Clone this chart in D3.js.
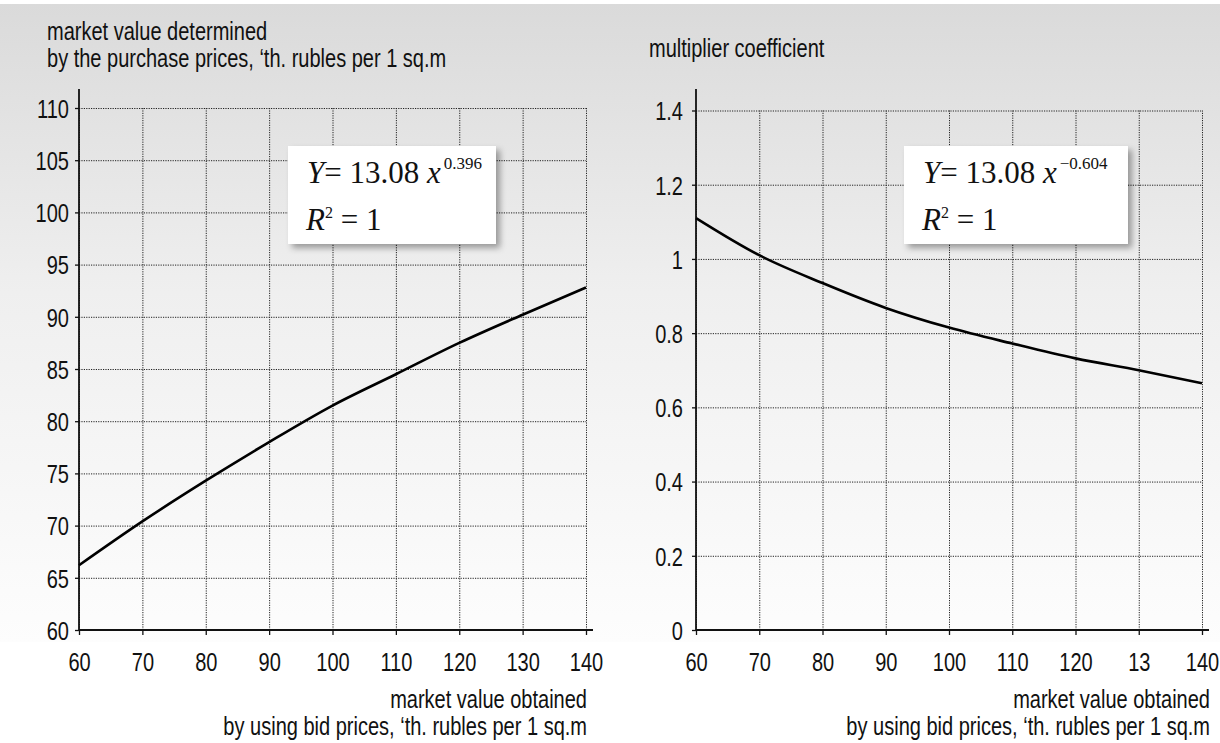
<!DOCTYPE html>
<html><head><meta charset="utf-8">
<script src="https://cdn.jsdelivr.net/npm/d3@7"></script>
<style>
html,body{margin:0;padding:0;background:#fff;}
svg{display:block;}
.lbl{font-family:"Liberation Sans",Arial,Helvetica,sans-serif;fill:#111;}
.eq{font-family:"Liberation Serif","Times New Roman",serif;fill:#111;}
</style></head>
<body>
<svg id="c" width="1220" height="743"></svg>
<script>
// ---- data ----
const xValues = [60, 70, 80, 90, 100, 110, 120, 130, 140];
const leftSeries = [66.2, 70.4, 74.3, 78.0, 81.5, 84.5, 87.5, 90.2, 92.8];
const rightSeries = [1.11, 1.01, 0.935, 0.868, 0.815, 0.772, 0.732, 0.700, 0.665];
const leftXTickLabels = ["60","70","80","90","100","110","120","130","140"];
const rightXTickLabels = ["60","70","80","90","100","110","120","13","140"];
const leftYTicks = [60, 65, 70, 75, 80, 85, 90, 95, 100, 105, 110];
const rightYTicks = [0, 0.2, 0.4, 0.6, 0.8, 1, 1.2, 1.4];
const leftYTitle = ["market value determined", "by the purchase prices, \u2018th. rubles per 1 sq.m"];
const rightYTitle = ["multiplier coefficient"];
const xTitle = ["market value obtained", "by using bid prices, \u2018th. rubles per 1 sq.m"];
const leftEq = {coef: "13.08", exp: "0.396"};
const rightEq = {coef: "13.08", exp: "\u22120.604"};

const SX = 0.77;      // condensed look
const FS = "26px";

const svg = d3.select("#c");
const defs = svg.append("defs");
const grad = defs.append("linearGradient").attr("id","bg").attr("x1",0).attr("y1",0).attr("x2",0).attr("y2",1);
grad.append("stop").attr("offset","0%").attr("stop-color","#dadada");
grad.append("stop").attr("offset","45%").attr("stop-color","#efefef");
grad.append("stop").attr("offset","100%").attr("stop-color","#fdfdfd");
const f = defs.append("filter").attr("id","sh").attr("x","-10%").attr("y","-10%").attr("width","130%").attr("height","140%");
f.append("feDropShadow").attr("dx",4).attr("dy",4).attr("stdDeviation",3).attr("flood-color","#000").attr("flood-opacity",0.35);

svg.append("rect").attr("x",0).attr("y",4).attr("width",1220).attr("height",638).attr("fill","url(#bg)");

function condText(parent, x, y, s, anchor){
  return parent.append("text").attr("class","lbl").style("font-size",FS)
    .attr("text-anchor",anchor||"start")
    .attr("transform",`translate(${x},${y}) scale(${SX},1)`).text(s);
}

function panel(cfg){
  const x = d3.scaleLinear().domain([60,140]).range(cfg.xr);
  const y = d3.scaleLinear().domain(cfg.yd).range(cfg.yr);
  const g = svg.append("g");
  // grid
  const gx = g.append("g").attr("transform",`translate(0,${cfg.yr[0]})`)
    .call(d3.axisBottom(x).tickValues(xValues).tickSize(-(cfg.yr[0]-cfg.yr[1])).tickFormat(""));
  const gy = g.append("g").attr("transform",`translate(${cfg.xr[0]},0)`)
    .call(d3.axisLeft(y).tickValues(cfg.yTicks).tickSize(-(cfg.xr[1]-cfg.xr[0])).tickFormat(""));
  [gx,gy].forEach(a=>{a.select(".domain").remove();
    a.selectAll(".tick line").attr("stroke","#222").attr("stroke-width",1).attr("stroke-dasharray","1.2,1.2");});
  // axis ticks & labels
  const ax = g.append("g").attr("transform",`translate(0,${cfg.yr[0]})`)
    .call(d3.axisBottom(x).tickValues(xValues).tickSize(5).tickPadding(0).tickFormat((d,i)=>cfg.xLabels[i]));
  const ay = g.append("g").attr("transform",`translate(${cfg.xr[0]},0)`)
    .call(d3.axisLeft(y).tickValues(cfg.yTicks).tickSize(4).tickPadding(0).tickFormat(d=>String(d)));
  [ax,ay].forEach(a=>{a.select(".domain").remove();
    a.selectAll(".tick line").attr("stroke","#111").attr("stroke-width",1.3);
    a.selectAll(".tick text").attr("class","lbl").style("font-size",FS).attr("fill","#111");});
  ax.selectAll(".tick text").attr("x",0).attr("y",0).attr("dy",null)
    .attr("transform",`translate(0,41) scale(${SX},1)`);
  ay.selectAll(".tick text").attr("x",0).attr("y",0).attr("dy","0.36em")
    .attr("transform",`translate(${-cfg.ypad},0) scale(${SX},1)`);
  // axis lines
  g.append("line").attr("x1",cfg.xr[0]).attr("x2",cfg.xr[0]).attr("y1",cfg.yr[0]).attr("y2",89)
    .attr("stroke","#111").attr("stroke-width",1.8);
  g.append("line").attr("x1",cfg.xr[0]).attr("x2",cfg.xr[1]+7).attr("y1",cfg.yr[0]).attr("y2",cfg.yr[0])
    .attr("stroke","#111").attr("stroke-width",1.8);
  // curve
  const line = d3.line().x((d,i)=>x(xValues[i])).y(d=>y(d)).curve(d3.curveMonotoneX);
  g.append("path").datum(cfg.series).attr("d",line).attr("fill","none").attr("stroke","#000").attr("stroke-width",2.6);
  // titles
  cfg.yTitle.forEach((s,i)=>condText(g, cfg.ytx, cfg.yty + i*26.5, s));
  xTitle.forEach((s,i)=>condText(g, cfg.xtx, 708 + i*26.5, s, "end"));
  // equation box
  const b = cfg.box;
  g.append("rect").attr("x",b[0]).attr("y",b[1]).attr("width",b[2]).attr("height",b[3])
    .attr("fill","#fff").attr("filter","url(#sh)");
  const e1 = g.append("text").attr("class","eq").attr("x",b[0]+19).attr("y",b[1]+37).style("font-size","31px");
  e1.append("tspan").attr("font-style","italic").text("Y");
  e1.append("tspan").text("= " + cfg.eq.coef + " ");
  e1.append("tspan").attr("font-style","italic").text("x");
  e1.append("tspan").attr("dy",-14).attr("dx",3).style("font-size","17px").text(cfg.eq.exp);
  const e2 = g.append("text").attr("class","eq").attr("x",b[0]+18).attr("y",b[1]+84).style("font-size","31px");
  e2.append("tspan").attr("font-style","italic").text("R");
  e2.append("tspan").attr("dy",-12).style("font-size","16px").text("2");
  e2.append("tspan").attr("dy",12).text(" = 1");
}

panel({xr:[79,586], yr:[630,108], yd:[60,110], yTicks:leftYTicks, xLabels:leftXTickLabels, ypad:10,
  series:leftSeries, yTitle:leftYTitle, ytx:47, yty:40, xtx:587, box:[288,146,208,98], eq:leftEq});
panel({xr:[696,1202], yr:[630,110.5], yd:[0,1.4], yTicks:rightYTicks, xLabels:rightXTickLabels, ypad:13,
  series:rightSeries, yTitle:rightYTitle, ytx:649, yty:57, xtx:1210, box:[904,146,224,98], eq:rightEq});
</script>
</body></html>
